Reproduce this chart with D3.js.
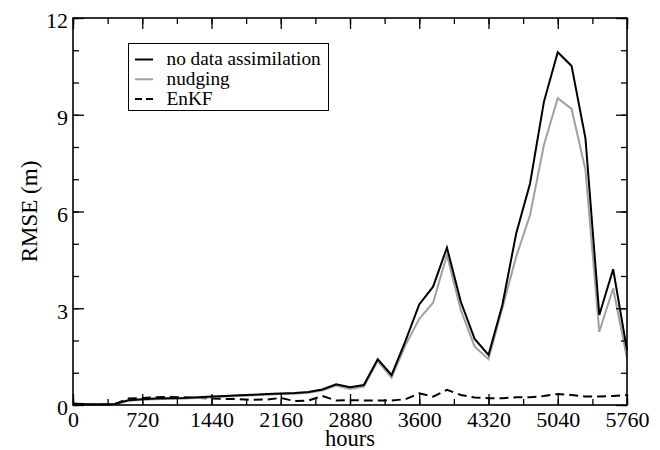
<!DOCTYPE html>
<html><head><meta charset="utf-8">
<script src="https://cdn.jsdelivr.net/npm/d3@7"></script>
<style>body{margin:0;background:#fff}svg{display:block}</style>
</head><body><svg id="c" width="660" height="450"></svg>
<script>
const hours = d3.range(0, 5761, 144);
const noAssim = [0.05,0.02,0.02,0.03,0.15,0.18,0.2,0.21,0.22,0.24,0.26,0.28,0.3,0.32,0.34,0.36,0.37,0.4,0.48,0.64,0.55,0.62,1.42,0.93,1.98,3.12,3.67,4.88,3.2,2.05,1.55,3.1,5.32,6.87,9.4,10.94,10.51,8.27,2.79,4.21,1.7];
const nudging = [0.04,0.01,0.01,0.02,0.13,0.16,0.18,0.19,0.2,0.22,0.24,0.26,0.28,0.3,0.32,0.34,0.35,0.38,0.45,0.6,0.5,0.57,1.36,0.85,1.85,2.67,3.17,4.65,2.95,1.81,1.42,3.0,4.6,5.89,8.06,9.51,9.18,7.29,2.27,3.62,1.45];
const enkf = [0.02,0.01,0.01,0.02,0.2,0.22,0.24,0.25,0.24,0.22,0.2,0.19,0.18,0.16,0.17,0.22,0.12,0.14,0.28,0.14,0.15,0.14,0.14,0.14,0.18,0.36,0.26,0.47,0.31,0.23,0.21,0.21,0.24,0.24,0.28,0.34,0.31,0.26,0.26,0.28,0.31];
const xTicks = [0,720,1440,2160,2880,3600,4320,5040,5760];
const yTicks = [0,3,6,9,12];
const seriesNames = ["no data assimilation","nudging","EnKF"];

const FONT = "'Liberation Serif', 'Times New Roman', Times, serif";
const svg = d3.select("#c");
const L=73,R=627,T=18,B=405;
const x = d3.scaleLinear().domain([0,5760]).range([L,R]);
const y = d3.scaleLinear().domain([0,12]).range([B,T]);

const series = [
  {name:seriesNames[0], vals:noAssim, color:"#000", dash:null, w:2},
  {name:seriesNames[1], vals:nudging, color:"#a0a0a0", dash:null, w:2},
  {name:seriesNames[2], vals:enkf, color:"#000", dash:"9,5", w:2}
];
const line = d3.line().x((d,i)=>x(hours[i])).y(d=>y(d));
series.slice().reverse().forEach(s=>{
  svg.append("path").attr("d",line(s.vals)).attr("fill","none")
    .attr("stroke",s.color).attr("stroke-width",s.w)
    .attr("stroke-dasharray",s.dash).attr("stroke-linejoin","miter");
});

const xMinor = d3.range(0,5761,360);
const yMinor = d3.range(0,12.01,1);
function addAxis(axisFn, scale, ticks, minor, tr, showLabels){
  const gMinor = svg.append("g").attr("transform",tr).call(axisFn(scale).tickValues(minor).tickSize(-6).tickFormat(""));
  gMinor.select(".domain").remove();
  gMinor.selectAll("text").remove();
  const g = svg.append("g").attr("transform",tr).call(axisFn(scale).tickValues(ticks).tickSize(-11).tickPadding(0).tickFormat(showLabels?d3.format("d"):""));
  g.select(".domain").remove();
  if(!showLabels) g.selectAll("text").remove();
  g.selectAll("line").attr("stroke","#000").attr("stroke-width",1.3);
  gMinor.selectAll("line").attr("stroke","#000").attr("stroke-width",1.3);
  g.selectAll("text").style("font-family",FONT).style("font-size","22px").attr("fill","#000");
  return g;
}
const gx = addAxis(d3.axisBottom, x, xTicks, xMinor, `translate(0,${B})`, true);
gx.selectAll("text").attr("dy",null).attr("y",22);
addAxis(d3.axisTop, x, xTicks, xMinor, `translate(0,${T})`, false);
const gy = addAxis(d3.axisLeft, y, yTicks, yMinor, `translate(${L},0)`, true);
gy.selectAll("text").attr("x",-5).attr("dy","0.45em");
addAxis(d3.axisRight, y, yTicks, yMinor, `translate(${R},0)`, false);

svg.append("rect").attr("x",L).attr("y",T).attr("width",R-L).attr("height",B-T)
  .attr("fill","none").attr("stroke","#000").attr("stroke-width",1.6);

svg.append("text").attr("x",(L+R)/2).attr("y",446).attr("text-anchor","middle")
  .style("font-family",FONT).style("font-size","22.5px").text("hours");
svg.append("text").attr("transform",`translate(37,${(T+B)/2}) rotate(-90)`).attr("text-anchor","middle")
  .style("font-family",FONT).style("font-size","23px").text("RMSE (m)");

const lg = svg.append("g");
lg.append("rect").attr("x",128.5).attr("y",43.5).attr("width",200).attr("height",67).attr("fill","#fff").attr("stroke","#000").attr("stroke-width",1);
series.forEach((s,i)=>{
  const yy = 59.5 + i*19.8;
  lg.append("line").attr("x1",135).attr("x2",153).attr("y1",yy).attr("y2",yy)
    .attr("stroke",s.color).attr("stroke-width",s.w).attr("stroke-dasharray",s.dash?"7,4":null);
  lg.append("text").attr("x",166.5).attr("y",yy+5.5)
    .style("font-family",FONT).style("font-size","19.3px").text(s.name);
});
</script></body></html>
